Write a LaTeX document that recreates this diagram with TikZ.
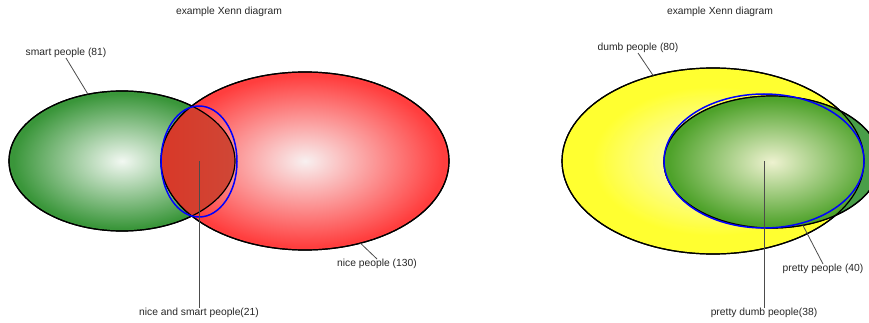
\documentclass[tikz,border=0pt]{standalone}
\usepackage{fontspec}
\setmainfont{Liberation Sans}
\usetikzlibrary{shapes.geometric}

\definecolor{smartin}{RGB}{242,248,242}
\definecolor{smartout}{RGB}{58,150,58}
\definecolor{nicein}{RGB}{248,240,240}
\definecolor{niceout}{RGB}{255,62,62}
\definecolor{dumbin}{RGB}{250,250,228}
\definecolor{dumbout}{RGB}{255,255,48}
\definecolor{prettyin}{RGB}{238,242,208}
\definecolor{prettyout}{RGB}{78,162,42}
\definecolor{prettyedge}{RGB}{72,158,72}
\definecolor{lensleft}{RGB}{216,56,40}
\definecolor{lensright}{RGB}{182,114,94}

\pgfdeclareradialshading{smartglow}{\pgfpoint{0bp}{0bp}}{color(0bp)=(smartin); color(24bp)=(smartout); color(50bp)=(smartout)}
\pgfdeclareradialshading{niceglow}{\pgfpoint{0bp}{0bp}}{color(0bp)=(nicein); color(24bp)=(niceout); color(50bp)=(niceout)}
\pgfdeclareradialshading{dumbglow}{\pgfpoint{0bp}{0bp}}{color(0bp)=(dumbin); color(20bp)=(dumbout); color(50bp)=(dumbout)}
\pgfdeclareradialshading{prettyglow}{\pgfpoint{0bp}{0bp}}{color(0bp)=(prettyin); color(24bp)=(prettyout); color(50bp)=(prettyout)}

\begin{document}
\begin{tikzpicture}[x=1pt,y=-1pt,font=\fontsize{10.3}{12}\selectfont,
  set/.style={ellipse,draw=black,line width=1.2pt,inner sep=0pt,outer sep=0pt},
  overlap/.style={ellipse,draw=blue,line width=1.5pt,inner sep=0pt,outer sep=0pt},
  setlabel/.style={inner sep=0pt,text=black!85},
  leader/.style={draw=black!70,line width=0.8pt}]
\useasboundingbox (0,0) rectangle (869,323);

% left diagram
\node[setlabel] (ltitle) at (229,12) {example Xenn diagram};
\node[set,shading=smartglow,minimum width=226pt,minimum height=140pt] (smart) at (122,161) {};
\node[set,shading=niceglow,minimum width=288pt,minimum height=178pt] (nice) at (305,161) {};
\begin{scope}
  \clip (122,161) ellipse (113 and 70);
  \shade[left color=lensleft,right color=lensright] (305,161) ellipse (144 and 89);
\end{scope}
\draw[line width=1.2pt] (122,161) ellipse (113 and 70);
\draw[line width=1.2pt] (305,161) ellipse (144 and 89);
\node[overlap,minimum width=76pt,minimum height=111pt] (both) at (199,161.5) {};

\node[setlabel] (slab) at (66,53) {smart people (81)};
\node[setlabel] (nlab) at (377,264) {nice people (130)};
\node[setlabel] (blab) at (199,313) {nice and smart people(21)};
\draw[leader] (slab.south) -- (smart.117);
\draw[leader] (nice.-56) -- (nlab.north);
\draw[leader] (both.center) -- (blab.north);

% right diagram
\node[setlabel] (rtitle) at (720,12) {example Xenn diagram};
\node[set,shading=dumbglow,minimum width=302pt,minimum height=186pt] (dumb) at (713,161) {};
\node[set,fill=prettyedge,minimum width=216pt,minimum height=132pt] (pretty) at (772,162) {};
\begin{scope}
  \clip (713,161) ellipse (151 and 93);
  \shade[shading=prettyglow] (772,162) ellipse (108 and 66);
\end{scope}
\draw[line width=1.2pt] (713,161) ellipse (151 and 93);
\draw[line width=1.2pt] (772,162) ellipse (108 and 66);
\node[overlap,minimum width=200pt,minimum height=134pt] (bothr) at (764,161) {};

\node[setlabel] (dlab) at (638,48) {dumb people (80)};
\node[setlabel] (plab) at (823,269) {pretty people (40)};
\node[setlabel] (pdlab) at (764,313) {pretty dumb people(38)};
\draw[leader] (dlab.south) -- (dumb.125);
\draw[leader] (pretty.-64) -- (plab.north);
\draw[leader] (bothr.center) -- (pdlab.north);
\end{tikzpicture}
\end{document}
